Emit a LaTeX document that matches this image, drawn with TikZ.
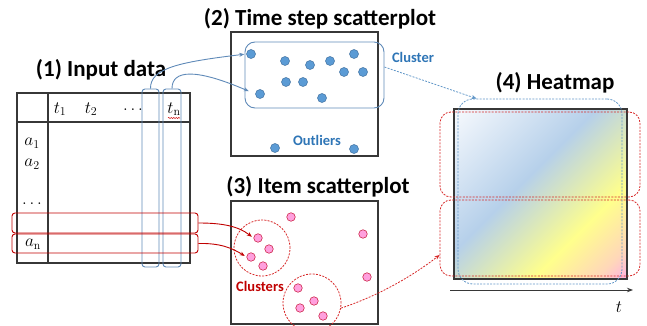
\documentclass[tikz,border=0pt]{standalone}
\usepackage{fontspec}
\newfontfamily\carl{Carlito}
\usetikzlibrary{arrows.meta,decorations.pathmorphing}
\definecolor{bline}{RGB}{95,138,184}
\definecolor{bdot}{RGB}{91,155,213}
\definecolor{bdotb}{RGB}{65,113,160}
\definecolor{btext}{RGB}{46,117,182}
\definecolor{rline}{RGB}{192,0,0}
\definecolor{rdash}{RGB}{215,40,40}
\definecolor{pdot}{RGB}{255,160,222}
\definecolor{pdotb}{RGB}{205,40,75}
\definecolor{frame}{RGB}{55,55,55}
\definecolor{hA}{RGB}{246,249,253}
\definecolor{hB}{RGB}{182,208,234}
\definecolor{hC}{RGB}{255,255,140}
\definecolor{hD}{RGB}{255,215,185}
\definecolor{hE}{RGB}{255,175,230}
\pgfdeclarehorizontalshading{heat}{100bp}{color(0bp)=(hA); color(15bp)=(hA); color(44bp)=(hB); color(66bp)=(hC); color(79bp)=(hD); color(86bp)=(hE); color(100bp)=(hE)}
\begin{document}
\begin{tikzpicture}[x=1pt,y=-1pt,
  title/.style={font=\carl\bfseries\fontsize{23}{24}\selectfont, inner sep=0pt},
  lab/.style={font=\carl\bfseries\fontsize{14.5}{15}\selectfont, inner sep=0pt},
  mth/.style={font=\fontsize{17}{18}\selectfont, inner sep=0pt},
  box/.style={draw=frame, line width=1.1pt, inner sep=0pt},
  colbox/.style={draw=bline, line width=0.9pt, rounded corners=3pt, inner sep=0pt},
  rowbox/.style={draw=rline, line width=0.9pt, rounded corners=3pt, inner sep=0pt},
  bdotn/.style={circle, fill=bdot, draw=bdotb, line width=0.5pt, minimum size=9pt, inner sep=0pt},
  pdotn/.style={circle, fill=pdot, draw=pdotb, line width=0.6pt, minimum size=8.5pt, inner sep=0pt},
  barrow/.style={draw=bline, line width=0.9pt, -{Stealth[length=5pt,width=4pt]}},
  rarrow/.style={draw=rline, line width=0.9pt, -{Stealth[length=5pt,width=4pt]}},
  rdashed/.style={draw=rdash, line width=0.8pt, dash pattern=on 2pt off 1.3pt},
  bdashed/.style={draw=btext!75!white, line width=0.8pt, dash pattern=on 2pt off 1.3pt}
]
\useasboundingbox (0,0) rectangle (647,326);

% ---------- (1) Input data ----------
\node[title] (t1) at (101,70) {(1) Input data};
\node[box, minimum width=173pt, minimum height=170pt] (tbl) at (103.5,178) {};
\draw[frame, line width=1.1pt] (48,93) -- (48,263);
\draw[frame, line width=1.1pt] (17,122) -- (190,122);
\node[mth] (h1) at (60,109) {$t_1$};
\node[mth] (h2) at (91,109) {$t_2$};
\node[mth] (h3) at (133,110) {$\ldots$};
\node[mth] (h4) at (174,109) {$t_{\mathrm{n}}$};
\draw[red!80!black, line width=0.5pt, decorate, decoration={snake, amplitude=0.6pt, segment length=2.5pt}] (168,118) -- (180,118);
\node[mth] (r1) at (32,143) {$a_1$};
\node[mth] (r2) at (32,164) {$a_2$};
\node[mth] (r3) at (32,204) {$\ldots$};
\node[mth] (r4) at (33,244) {$a_{\mathrm{n}}$};
\node[colbox, minimum width=17pt, minimum height=178pt] (col1) at (150.5,178) {};
\node[colbox, minimum width=18pt, minimum height=178pt] (col2) at (172,178) {};
\node[rowbox, minimum width=186pt, minimum height=20pt] (row1) at (105,223) {};
\node[rowbox, minimum width=186pt, minimum height=19pt] (row2) at (105,243.5) {};

% ---------- (2) Time step scatterplot ----------
\node[title] (t2) at (320,19) {(2) Time step scatterplot};
\node[box, minimum width=147pt, minimum height=124pt] (sp2) at (304.5,94) {};
\node[draw=bline, line width=0.9pt, rounded corners=10pt, minimum width=139pt, minimum height=66pt, inner sep=0pt] (clu) at (314.5,75) {};
\foreach \px/\py/\nm in {251/54/d1, 285/61/d2, 310/65/d3, 330/61/d4, 354/54/d5, 344/72/d6, 363/72/d7, 286/82/d8, 303/82/d9, 260/94/d10, 322/98/d11, 275/148/o1, 354/149/o2}
  {\node[bdotn] (\nm) at (\px,\py) {};}
\node[lab, text=btext] (lc) at (413,57) {Cluster};
\node[lab, text=btext] (lo) at (317,140) {Outliers};

% ---------- (3) Item scatterplot ----------
\node[title] (t3) at (318,187) {(3) Item scatterplot};
\node[box, minimum width=147pt, minimum height=123pt] (sp3) at (304.5,262.5) {};
\node[circle, rdashed, minimum size=56pt, inner sep=0pt] (c1) at (262,248) {};
\node[circle, rdashed, minimum size=58pt, inner sep=0pt] (c2) at (312,303) {};
\foreach \px/\py/\nm in {291/217/p1, 363/234/p2, 258/238/p3, 269/249/p4, 251/257/p5, 263/266/p6, 367/277/p7, 298/288/p8, 314/301/p9, 300/308/p10, 323/316/p11}
  {\node[pdotn] (\nm) at (\px,\py) {};}
\node[lab, text=rline] (lcs) at (260,286) {Clusters};

% ---------- (4) Heatmap ----------
\node[title] (t4) at (555,83) {(4) Heatmap};
\node[box, shading=heat, shading angle=-45, minimum width=173pt, minimum height=170pt] (hm) at (540.5,194) {};
\node[rdashed, rounded corners=11pt, minimum width=200pt, minimum height=85pt, inner sep=0pt] (hrow1) at (540,154.5) {};
\node[rdashed, rounded corners=11pt, minimum width=200pt, minimum height=76pt, inner sep=0pt] (hrow2) at (540,238) {};
\node[bdashed, rounded corners=15pt, minimum width=164pt, minimum height=185pt, inner sep=0pt] (hblue) at (540,191.5) {};
\coordinate (ax1) at (450,290);
\coordinate (ax2) at (633,290);
\draw[frame, line width=1pt, -{Stealth[length=6pt,width=4.5pt]}] (ax1) -- (ax2);
\node[mth] (tt) at (619,307) {$t$};

% ---------- connectors ----------
\draw[barrow, shorten >=2pt] (col1.north) .. controls (150,68) and (180,62) .. (d1.west);
\draw[barrow, shorten >=7pt] (col2.north) .. controls (172,70) and (195,68) .. (d10.west);
\draw[rarrow, shorten >=2pt] (row1.east) .. controls (222,223) and (238,226) .. (p3.west);
\draw[rarrow, shorten >=2pt] (row2.east) .. controls (220,243) and (232,248) .. (p5.west);
\draw[rdashed, -{Stealth[length=5pt,width=4pt]}] (c2.-10) .. controls (375,297) and (410,278) .. ([yshift=-17pt]hrow2.west);
\draw[bdashed, -{Stealth[length=5pt,width=4pt]}] ([yshift=8pt]clu.east) -- ([xshift=19pt]hblue.north west);
\end{tikzpicture}
\end{document}
